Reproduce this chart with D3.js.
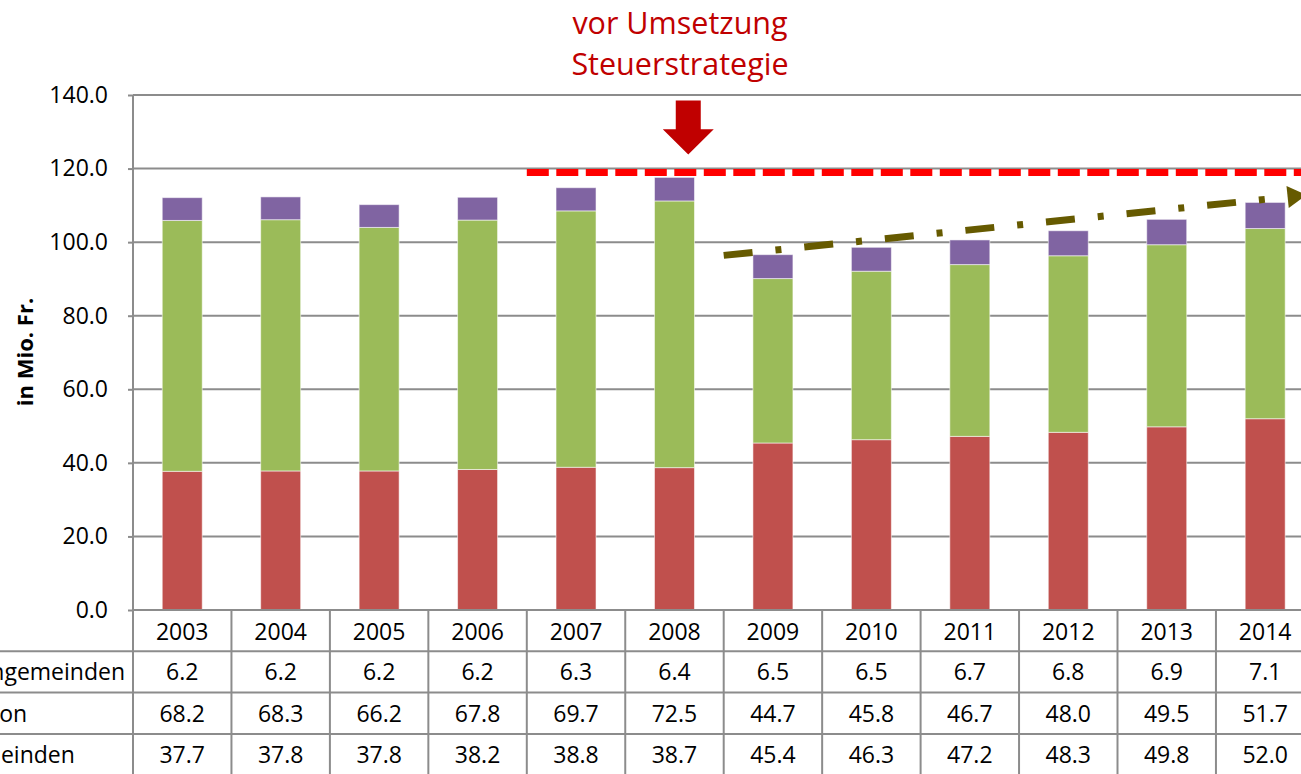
<!DOCTYPE html>
<html>
<head>
<meta charset="utf-8">
<script src="https://cdn.jsdelivr.net/npm/d3@7"></script>
<style>
  html, body { margin: 0; padding: 0; background: #fff; }
  svg { display: block; font-family: "Open Sans", sans-serif; }
</style>
</head>
<body>
<svg id="chart" width="1301" height="774"></svg>
<script>
// data (in Mio. Fr.)
const years = ["2003", "2004", "2005", "2006", "2007", "2008", "2009", "2010", "2011", "2012", "2013", "2014"];
const kirchgemeinden = [6.2, 6.2, 6.2, 6.2, 6.3, 6.4, 6.5, 6.5, 6.7, 6.8, 6.9, 7.1];
const kanton = [68.2, 68.3, 66.2, 67.8, 69.7, 72.5, 44.7, 45.8, 46.7, 48.0, 49.5, 51.7];
const gemeinden = [37.7, 37.8, 37.8, 38.2, 38.8, 38.7, 45.4, 46.3, 47.2, 48.3, 49.8, 52.0];
const rowLabels = ["Kirchgemeinden", "Kanton", "Gemeinden"];
const yTicks = [0, 20, 40, 60, 80, 100, 120, 140];
const refLevel = 118.9;          // red dashed line
const trendStart = 96.4;         // olive trend arrow, start (2009)
const trendEnd = 112.8;          // olive trend arrow, end (2014)

const width = 1301, height = 774;
const svg = d3.select('#chart');

// scales
let x = d3.scaleBand().domain(years).range([133, 133 + 12 * 98.45]);
let y = d3.scaleLinear().domain([0, 140]).range([610, 95]);
const bw = x.bandwidth();
const barW = 40;
const rowH = 41.3;

const rows = years.map((yr, i) => ({
  year: yr, gemeinden: gemeinden[i], kanton: kanton[i], kirch: kirchgemeinden[i]
}));
const keys = ["gemeinden", "kanton", "kirch"];
const color = d3.scaleOrdinal().domain(keys).range(["#c0504d", "#9bbb59", "#8064a2"]);
const series = d3.stack().keys(keys)(rows);

// gridlines
svg.append('g')
  .selectAll('line')
  .data(yTicks.filter(d => d > 0))
  .enter().append('line')
  .attr('x1', 133).attr('x2', width)
  .attr('y1', d => y(d)).attr('y2', d => y(d))
  .attr('stroke', '#8c8c8c').attr('stroke-width', 2);

// y axis
const yAxis = svg.append('g')
  .attr('transform', 'translate(133,0)')
  .call(d3.axisLeft(y).tickValues(yTicks).tickFormat(d3.format('.1f')).tickSize(5).tickPadding(20));
yAxis.select('.domain').remove();
yAxis.selectAll('line').attr('stroke', '#8c8c8c').attr('stroke-width', 2);
yAxis.selectAll('text').attr('font-size', 23).attr('fill', '#000')
  .attr('font-family', '"Open Sans", sans-serif');

svg.append('text')
  .attr('transform', 'translate(33,352) rotate(-90)')
  .attr('text-anchor', 'middle')
  .attr('font-size', 22).attr('font-weight', 'bold')
  .text('in Mio. Fr.');

// bars
svg.append('g')
  .selectAll('g')
  .data(series)
  .enter().append('g')
  .attr('fill', d => color(d.key))
  .selectAll('rect')
  .data(d => d)
  .enter().append('rect')
  .attr('x', d => x(d.data.year) + (bw - barW) / 2)
  .attr('width', barW)
  .attr('y', d => y(d[1]))
  .attr('height', d => y(d[0]) - y(d[1]))
  .attr('stroke', 'rgba(255,255,255,0.55)')
  .attr('stroke-width', 1);

// table
const tbl = svg.append('g');
tbl.append('line')
  .attr('x1', 133).attr('x2', width).attr('y1', y(0)).attr('y2', y(0))
  .attr('stroke', '#8c8c8c').attr('stroke-width', 2);
[1, 2, 3].forEach(k => {
  tbl.append('line')
    .attr('x1', 0).attr('x2', width)
    .attr('y1', y(0) + rowH * k).attr('y2', y(0) + rowH * k)
    .attr('stroke', '#8c8c8c').attr('stroke-width', 2);
});
tbl.append('line')
  .attr('x1', 133).attr('x2', 133).attr('y1', y(140)).attr('y2', height)
  .attr('stroke', '#8c8c8c').attr('stroke-width', 2);
tbl.selectAll('.vline')
  .data(years.slice(1))
  .enter().append('line')
  .attr('x1', d => x(d)).attr('x2', d => x(d))
  .attr('y1', y(0)).attr('y2', height)
  .attr('stroke', '#8c8c8c').attr('stroke-width', 2);

tbl.selectAll('.yr')
  .data(years)
  .enter().append('text')
  .attr('x', d => x(d) + bw / 2)
  .attr('y', y(0) + 30)
  .attr('text-anchor', 'middle')
  .attr('font-size', 23)
  .text(d => d);

const tableRows = [kirchgemeinden, kanton, gemeinden];
tableRows.forEach((vals, r) => {
  const ty = y(0) + rowH * (r + 1) + 29;
  tbl.append('text')
    .attr('x', -50).attr('y', ty)
    .attr('font-size', 23)
    .text(rowLabels[r]);
  tbl.selectAll('.v' + r)
    .data(vals)
    .enter().append('text')
    .attr('x', (d, i) => x(years[i]) + bw / 2)
    .attr('y', ty)
    .attr('text-anchor', 'middle')
    .attr('font-size', 23)
    .text(d => d.toFixed(1));
});

// red dashed level line
svg.append('line')
  .attr('x1', x("2007")).attr('x2', width)
  .attr('y1', y(refLevel)).attr('y2', y(refLevel))
  .attr('stroke', '#ff0000').attr('stroke-width', 7)
  .attr('stroke-dasharray', '22 7.5');

// olive trend arrow
const tx1 = x("2009"), ty1 = y(trendStart);
const tx2 = x("2014") + bw * 0.92, ty2 = y(trendEnd);
const ang = Math.atan2(ty2 - ty1, tx2 - tx1);
const headL = 19, headW = 11;
const bx = tx2 - headL * Math.cos(ang), by = ty2 - headL * Math.sin(ang);
svg.append('line')
  .attr('x1', tx1).attr('y1', ty1)
  .attr('x2', bx).attr('y2', by)
  .attr('stroke', '#665a00').attr('stroke-width', 7)
  .attr('stroke-dasharray', '29 23 6 23');
svg.append('path')
  .attr('d', d3.line()([
    [tx2, ty2],
    [bx + headW * Math.sin(ang), by - headW * Math.cos(ang)],
    [bx - headW * Math.sin(ang), by + headW * Math.cos(ang)]
  ]) + 'Z')
  .attr('fill', '#665a00');

// red "vor Umsetzung" arrow
const ax = x("2008") + bw * 0.64;
const aTop = y(138.5), aNeck = y(130.7), aTip = y(123.8);
svg.append('path')
  .attr('d', d3.line()([
    [ax - 12.5, aTop], [ax + 12.5, aTop], [ax + 12.5, aNeck], [ax + 25.5, aNeck],
    [ax, aTip], [ax - 25.5, aNeck], [ax - 12.5, aNeck]
  ]) + 'Z')
  .attr('fill', '#c00000');

// annotation text
const note = svg.append('text')
  .attr('text-anchor', 'middle')
  .attr('font-size', 30.5)
  .attr('fill', '#c00000');
note.append('tspan').attr('x', 680).attr('y', 34).text('vor Umsetzung');
note.append('tspan').attr('x', 680).attr('y', 75).text('Steuerstrategie');
</script>
</body>
</html>
